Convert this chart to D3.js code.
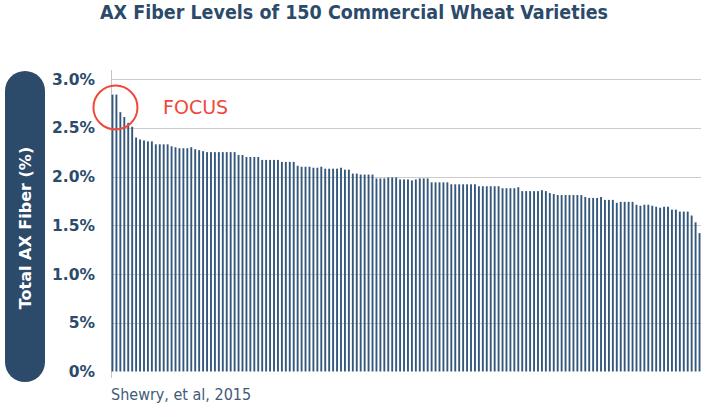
<!DOCTYPE html>
<html>
<head>
<meta charset="utf-8">
<script src="https://cdn.jsdelivr.net/npm/d3@7"></script>
<style>
  body { margin: 0; background: #fff; }
  svg { display: block; font-family: "DejaVu Sans", sans-serif; }
</style>
</head>
<body>
<div id="chart"></div>
<script>

// AX fiber (%) for each of the 150 varieties, sorted high to low
const fiberValues = [
    2.84, 2.84, 2.66, 2.61, 2.55, 2.51, 2.40, 2.38, 2.37, 2.36,
    2.36, 2.33, 2.33, 2.33, 2.33, 2.31, 2.30, 2.29, 2.29, 2.29,
    2.30, 2.28, 2.27, 2.26, 2.25, 2.25, 2.25, 2.25, 2.25, 2.25,
    2.25, 2.25, 2.22, 2.22, 2.20, 2.20, 2.20, 2.20, 2.17, 2.17,
    2.17, 2.17, 2.17, 2.15, 2.15, 2.15, 2.15, 2.11, 2.10, 2.10,
    2.10, 2.09, 2.09, 2.10, 2.08, 2.08, 2.08, 2.08, 2.09, 2.07,
    2.07, 2.03, 2.03, 2.02, 2.02, 2.02, 2.02, 1.98, 1.98, 1.98,
    1.99, 1.99, 1.99, 1.97, 1.97, 1.97, 1.96, 1.97, 1.98, 1.98,
    1.98, 1.94, 1.94, 1.94, 1.94, 1.94, 1.92, 1.92, 1.92, 1.92,
    1.92, 1.92, 1.92, 1.90, 1.90, 1.90, 1.90, 1.90, 1.90, 1.88,
    1.88, 1.88, 1.88, 1.89, 1.85, 1.85, 1.85, 1.85, 1.85, 1.86,
    1.85, 1.83, 1.82, 1.81, 1.81, 1.81, 1.81, 1.81, 1.81, 1.81,
    1.79, 1.78, 1.78, 1.78, 1.79, 1.76, 1.76, 1.76, 1.73, 1.74,
    1.74, 1.74, 1.74, 1.71, 1.70, 1.71, 1.71, 1.70, 1.69, 1.68,
    1.69, 1.69, 1.66, 1.66, 1.64, 1.64, 1.64, 1.60, 1.53, 1.42
]

const tickValues = [0, 0.5, 1.0, 1.5, 2.0, 2.5, 3.0]
const tickLabels = ['0%', '5%', '1.0%', '1.5%', '2.0%', '2.5%', '3.0%']

const titleText = 'AX Fiber Levels of 150 Commercial Wheat Varieties'
const yLabel = 'Total AX Fiber (%)'
const sourceText = 'Shewry, et al, 2015'
const focusText = 'FOCUS'


var width = 706
var height = 407
var navy = '#2c4a6a'
var condensed = '"DejaVu Sans Condensed", "DejaVu Sans", sans-serif'

var svg = d3.select('#chart').append('svg')
    .attr('width', width)
    .attr('height', height)

var x = d3.scaleBand()
    .domain(d3.range(fiberValues.length))
    .range([110.5, 701.5])
    .paddingInner(0.52)
    .paddingOuter(0.26)

var y = d3.scaleLinear()
    .domain([0, 3])
    .range([371.5, 79])

// title
svg.append('text')
    .attr('x', 100)
    .attr('y', 18.5)
    .attr('font-family', condensed)
    .attr('font-size', 19.5)
    .attr('font-weight', 'bold')
    .attr('fill', navy)
    .attr('textLength', 508)
    .attr('lengthAdjust', 'spacingAndGlyphs')
    .text(titleText)

// gridlines
svg.append('g')
    .selectAll('line')
    .data(tickValues.filter(d => d > 0))
    .enter()
    .append('line')
    .attr('x1', 111)
    .attr('x2', 701)
    .attr('y1', d => Math.round(y(d)) + 0.5)
    .attr('y2', d => Math.round(y(d)) + 0.5)
    .attr('stroke', '#cccccc')
    .attr('stroke-width', 1)

// left axis line
svg.append('line')
    .attr('x1', 111.5).attr('x2', 111.5)
    .attr('y1', 70).attr('y2', 378)
    .attr('stroke', '#c4c4c4')

// tick labels
svg.append('g')
    .selectAll('text')
    .data(tickValues)
    .enter()
    .append('text')
    .attr('x', 95)
    .attr('y', d => y(d) + 5.5)
    .attr('text-anchor', 'end')
    .attr('font-size', 15.5)
    .attr('font-weight', 'bold')
    .attr('fill', navy)
    .text((d, i) => tickLabels[i])

// bars
svg.append('g')
    .selectAll('rect')
    .data(fiberValues)
    .enter()
    .append('rect')
    .attr('x', (d, i) => x(i))
    .attr('width', x.bandwidth())
    .attr('y', d => y(d))
    .attr('height', d => y(0) - y(d))
    .attr('fill', '#34587c')

// y label pill
svg.append('rect')
    .attr('x', 5)
    .attr('y', 71)
    .attr('width', 40)
    .attr('height', 311)
    .attr('rx', 20)
    .attr('fill', navy)

svg.append('text')
    .attr('transform', 'translate(31,228) rotate(-90)')
    .attr('text-anchor', 'middle')
    .attr('font-size', 16)
    .attr('font-weight', 'bold')
    .attr('fill', '#ffffff')
    .text(yLabel)

// focus circle + label
svg.append('circle')
    .attr('cx', x(0) + x.step())
    .attr('cy', 107.5)
    .attr('r', 22)
    .attr('fill', 'none')
    .attr('stroke', '#f0483a')
    .attr('stroke-width', 2)

svg.append('text')
    .attr('x', 163)
    .attr('y', 114)
    .attr('font-size', 19)
    .attr('fill', '#f0483a')
    .text(focusText)

// source
svg.append('text')
    .attr('x', 111)
    .attr('y', 400)
    .attr('font-family', condensed)
    .attr('font-size', 16)
    .attr('fill', '#3f5b7a')
    .text(sourceText)

</script>
</body>
</html>
